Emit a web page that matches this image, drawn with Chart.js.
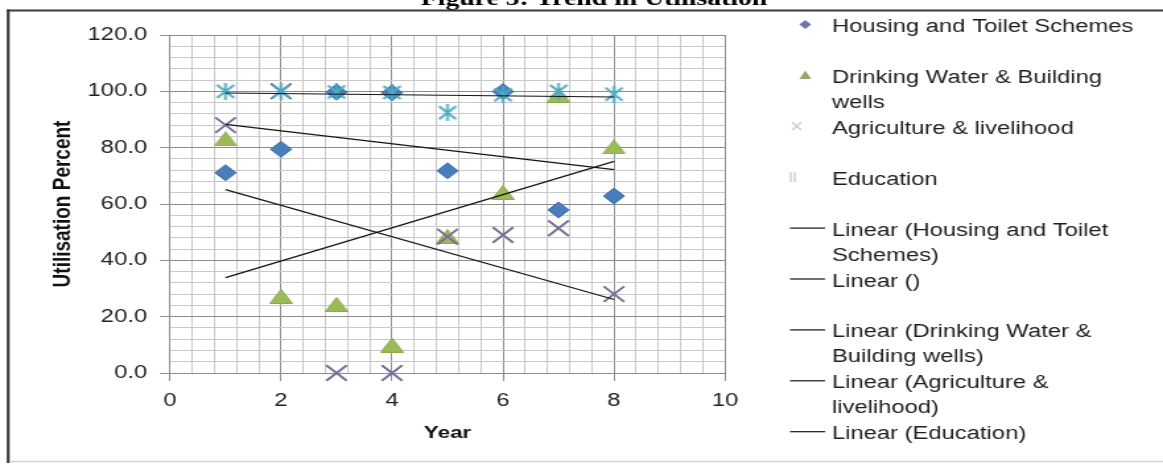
<!DOCTYPE html>
<html>
<head>
<meta charset="utf-8">
<script src="https://cdn.jsdelivr.net/npm/chart.js@4/dist/chart.umd.min.js"></script>
<style>
  html, body { margin: 0; padding: 0; background: #fff; overflow: hidden; }
  #wrap { width: 881px; height: 466px; transform-origin: 0 0; transform: scaleX(1.3201); }
  canvas { display: block; }
</style>
</head>
<body>
<div id="wrap"><canvas id="chart" width="881" height="466"></canvas></div>
<script>
// ---- data ----
const years = [1, 2, 3, 4, 5, 6, 7, 8];
const housing = [71.1, 79.4, 99.7, 99.5, 71.8, 99.9, 57.9, 62.8];
const drinkingWater = [83.1, 27.2, 24.3, 9.9, 48.4, 64.1, 98.6, 80.3];
const agriculture = [88.0, 100.0, 0.0, 0.0, 48.4, 49.0, 51.4, 28.0];
const education = [100.0, 100.0, 99.8, 99.6, 92.4, 98.8, 100.0, 99.0];

const seriesNames = ['Housing and Toilet Schemes', 'Drinking Water & Building wells',
                     'Agriculture & livelihood', 'Education'];
const xTickLabels = ['0', '2', '4', '6', '8', '10'];
const yTickLabels = ['0.0', '20.0', '40.0', '60.0', '80.0', '100.0', '120.0'];

const legendLines = [
  ['Housing and Toilet Schemes'],
  ['Drinking Water & Building', 'wells'],
  ['Agriculture & livelihood'],
  ['Education'],
  ['Linear (Housing and Toilet', 'Schemes)'],
  ['Linear ()'],
  ['Linear (Drinking Water &', 'Building wells)'],
  ['Linear (Agriculture &', 'livelihood)'],
  ['Linear (Education)']
];
const figureTitle = 'Figure 5: Trend in Utilisation';

// ---- helpers ----
const FONT = "'Liberation Sans', Arial, sans-serif";
const W = 881, H = 466;
const PLOT_LEFT = 128.8, PLOT_RIGHT = 549.2, PLOT_TOP = 35, PLOT_BOTTOM = 373;
const MAJOR_GRID = '#8c8c8c', MINOR_GRID = '#c8c8c8';

function points(ys) { return years.map((x, i) => ({ x, y: ys[i] })); }

// least-squares trend line over the range of the series
function trend(ys) {
  const pts = points(ys).filter(p => p.y !== null);
  const n = pts.length;
  const mx = pts.reduce((s, p) => s + p.x, 0) / n;
  const my = pts.reduce((s, p) => s + p.y, 0) / n;
  let sxy = 0, sxx = 0;
  pts.forEach(p => { sxy += (p.x - mx) * (p.y - my); sxx += (p.x - mx) * (p.x - mx); });
  const b = sxy / sxx, a = my - b * mx;
  const x0 = Math.min(...pts.map(p => p.x)), x1 = Math.max(...pts.map(p => p.x));
  return [{ x: x0, y: a + b * x0 }, { x: x1, y: a + b * x1 }];
}

function makeMarker(w, h, draw) {
  const c = document.createElement('canvas');
  c.width = w; c.height = h;
  draw(c.getContext('2d'), w, h);
  return c;
}
const triangleMarker = makeMarker(18, 15, (g, w, h) => {
  g.fillStyle = '#9BBB59';
  g.strokeStyle = '#8BAA4C';
  g.lineWidth = 1;
  g.beginPath();
  g.moveTo(w / 2, 0.5); g.lineTo(w - 0.5, h - 0.5); g.lineTo(0.5, h - 0.5);
  g.closePath(); g.fill(); g.stroke();
});
const starMarker = makeMarker(17, 17, (g, w, h) => {
  g.strokeStyle = '#4BACC6';
  g.lineWidth = 2;
  g.beginPath();
  g.moveTo(2, 2); g.lineTo(w - 2, h - 2);
  g.moveTo(w - 2, 2); g.lineTo(2, h - 2);
  g.moveTo(w / 2, 0); g.lineTo(w / 2, h);
  g.stroke();
});

const isMult = (v, m) => Math.abs(v / m - Math.round(v / m)) < 1e-6;

// ---- decorations: background, frame, legend, figure caption ----
const decorations = {
  id: 'decorations',
  beforeDraw(chart) {
    const ctx = chart.ctx;
    ctx.save();
    ctx.fillStyle = '#fff';
    ctx.fillRect(0, 0, W, H);
    ctx.restore();
  },
  afterDraw(chart) {
    const ctx = chart.ctx;
    ctx.save();
    // caption above the frame (only its lower edge falls inside the page)
    ctx.font = "bold 21px 'Liberation Serif', 'Times New Roman', serif";
    ctx.fillStyle = '#000';
    ctx.textAlign = 'center';
    ctx.textBaseline = 'alphabetic';
    ctx.fillText(figureTitle, 450, 5);

    // frame
    ctx.strokeStyle = '#3a3a3a';
    ctx.lineWidth = 2.2;
    ctx.beginPath();
    ctx.moveTo(6.2, 9.5); ctx.lineTo(6.2, 463);
    ctx.stroke();
    ctx.lineWidth = 2;
    ctx.beginPath();
    ctx.moveTo(5, 10.5); ctx.lineTo(W, 10.5);
    ctx.stroke();
    ctx.strokeStyle = '#d4d4d4';
    ctx.lineWidth = 1.5;
    ctx.beginPath();
    ctx.moveTo(7, 461.5); ctx.lineTo(W, 461.5);
    ctx.stroke();

    // legend
    const textX = 630.3, markX = 610, step = 50.9, gap = 25, base0 = 32;
    ctx.font = '18px ' + FONT;
    ctx.textAlign = 'left';
    ctx.textBaseline = 'alphabetic';
    legendLines.forEach((lines, i) => {
      const base = base0 + i * step;
      const cy = base - 7.5;
      ctx.fillStyle = '#1e1e1e';
      lines.forEach((t, j) => ctx.fillText(t, textX, base + j * gap));
      if (i === 0) {
        ctx.fillStyle = '#6c74b8';
        ctx.beginPath();
        ctx.moveTo(markX, cy - 4.5); ctx.lineTo(markX + 4.5, cy);
        ctx.lineTo(markX, cy + 4.5); ctx.lineTo(markX - 4.5, cy);
        ctx.closePath(); ctx.fill();
      } else if (i === 1) {
        ctx.fillStyle = '#93a86a';
        ctx.beginPath();
        ctx.moveTo(markX, cy - 5); ctx.lineTo(markX + 4.5, cy + 3.5); ctx.lineTo(markX - 4.5, cy + 3.5);
        ctx.closePath(); ctx.fill();
      } else if (i === 2) {
        ctx.strokeStyle = '#cfcfcf';
        ctx.lineWidth = 1.5;
        ctx.beginPath();
        ctx.moveTo(markX - 10, cy - 4); ctx.lineTo(markX - 3, cy + 4);
        ctx.moveTo(markX - 3, cy - 4); ctx.lineTo(markX - 10, cy + 4);
        ctx.stroke();
      } else if (i === 3) {
        ctx.strokeStyle = '#cfcfcf';
        ctx.lineWidth = 1.5;
        ctx.beginPath();
        ctx.moveTo(markX - 11, cy - 5); ctx.lineTo(markX - 11, cy + 5);
        ctx.moveTo(markX - 8, cy - 5); ctx.lineTo(markX - 8, cy + 5);
        ctx.stroke();
      } else {
        ctx.strokeStyle = '#111';
        ctx.lineWidth = 1.2;
        ctx.beginPath();
        ctx.moveTo(598.5, cy); ctx.lineTo(625, cy);
        ctx.stroke();
      }
    });
    ctx.restore();
  }
};

const trendStyle = { type: 'line', showLine: true, borderColor: '#151515', borderWidth: 1.2,
                     pointRadius: 0, fill: false, order: 0, clip: false };

new Chart(document.getElementById('chart'), {
  type: 'scatter',
  data: {
    datasets: [
      { label: seriesNames[0], data: points(housing), pointStyle: 'rectRot', pointRadius: 8,
        backgroundColor: '#4A7EBB', borderColor: '#3F6DA6', borderWidth: 1, order: 4, clip: false },
      { label: seriesNames[1], data: points(drinkingWater), pointStyle: triangleMarker, pointRadius: 8,
        backgroundColor: '#9BBB59', borderColor: '#9BBB59', order: 3, clip: false },
      { label: seriesNames[2], data: points(agriculture), pointStyle: 'crossRot', pointRadius: 11,
        backgroundColor: '#7A6F99', borderColor: '#7A6F99', borderWidth: 2, order: 2, clip: false },
      { label: seriesNames[3], data: points(education), pointStyle: starMarker, pointRadius: 8,
        backgroundColor: '#4BACC6', borderColor: '#4BACC6', order: 1, clip: false },
      Object.assign({ label: 'Linear (' + seriesNames[0] + ')', data: trend(housing) }, trendStyle),
      Object.assign({ label: 'Linear (' + seriesNames[1] + ')', data: trend(drinkingWater) }, trendStyle),
      Object.assign({ label: 'Linear (' + seriesNames[2] + ')', data: trend(agriculture) }, trendStyle),
      Object.assign({ label: 'Linear (' + seriesNames[3] + ')', data: trend(education) }, trendStyle)
    ]
  },
  options: {
    responsive: false,
    animation: false,
    devicePixelRatio: 1,
    layout: { padding: { left: 0, top: PLOT_TOP, right: W - PLOT_RIGHT, bottom: 0 } },
    plugins: { legend: { display: false }, tooltip: { enabled: false } },
    scales: {
      x: {
        type: 'linear', position: 'bottom', min: 0, max: 10,
        afterFit: s => { s.height = H - PLOT_BOTTOM; },
        ticks: {
          stepSize: 0.4, autoSkip: false, maxRotation: 0, minRotation: 0, padding: 9,
          color: '#222', font: { family: FONT, size: 18 },
          callback: v => isMult(v, 2) ? xTickLabels[Math.round(v / 2)] : ''
        },
        grid: {
          lineWidth: 1, tickLength: 8,
          color: c => isMult(c.tick.value, 2) ? MAJOR_GRID : MINOR_GRID,
          tickColor: c => isMult(c.tick.value, 2) ? MAJOR_GRID : 'rgba(0,0,0,0)'
        },
        border: { display: true, color: MAJOR_GRID },
        title: { display: true, text: 'Year', color: '#111',
                 font: { family: FONT, size: 17, weight: 'bold' }, padding: { top: 0, bottom: 22 } }
      },
      y: {
        type: 'linear', min: 0, max: 120,
        afterFit: s => { s.width = PLOT_LEFT; },
        ticks: {
          stepSize: 4, autoSkip: false, padding: 9.8,
          color: '#222', font: { family: FONT, size: 18 },
          callback: v => isMult(v, 20) ? yTickLabels[Math.round(v / 20)] : ''
        },
        grid: {
          lineWidth: 1, tickLength: 7.6,
          color: c => isMult(c.tick.value, 20) ? MAJOR_GRID : MINOR_GRID,
          tickColor: c => isMult(c.tick.value, 20) ? MAJOR_GRID : 'rgba(0,0,0,0)'
        },
        border: { display: true, color: MAJOR_GRID },
        title: { display: true, text: 'Utilisation Percent', color: '#111',
                 font: { family: FONT, size: 19, weight: 'bold' }, padding: { top: 36, bottom: 0 } }
      }
    }
  },
  plugins: [decorations]
});
</script>
</body>
</html>
